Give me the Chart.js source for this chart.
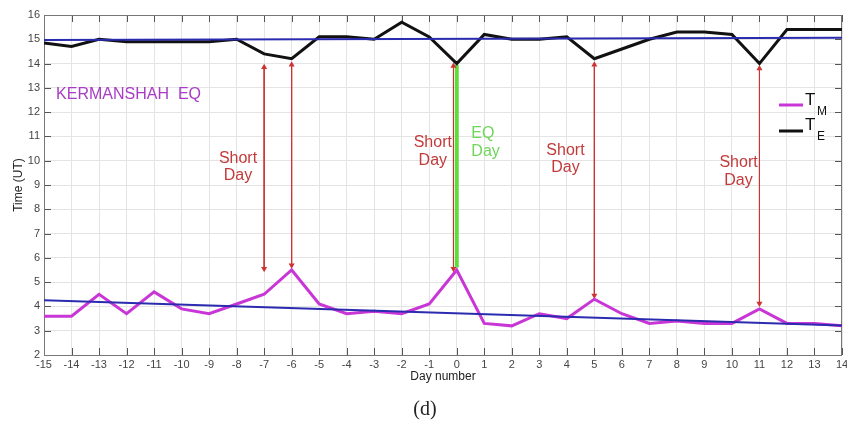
<!DOCTYPE html>
<html>
<head>
<meta charset="utf-8">
<script src="https://cdn.jsdelivr.net/npm/chart.js@4"></script>
<style>
  html, body { margin: 0; padding: 0; background: #fff; }
  #wrap { width: 847px; height: 432px; }
</style>
</head>
<body>
<div id="wrap"><canvas id="eqChart" width="847" height="432"></canvas></div>
<script>
// values
const days = [-15,-14,-13,-12,-11,-10,-9,-8,-7,-6,-5,-4,-3,-2,-1,0,1,2,3,4,5,6,7,8,9,10,11,12,13,14];
const timeE = [14.85,14.7,15.0,14.9,14.9,14.9,14.9,15.0,14.4,14.2,15.1,15.1,15.0,15.7,15.1,14.0,15.2,15.0,15.0,15.1,14.2,14.6,15.0,15.3,15.3,15.2,14.0,15.4,15.4,15.4];
const timeM = [3.6,3.6,4.5,3.7,4.6,3.9,3.7,4.1,4.5,5.5,4.1,3.7,3.8,3.7,4.1,5.5,3.3,3.2,3.7,3.5,4.3,3.7,3.3,3.4,3.3,3.3,3.9,3.3,3.3,3.2];
const trendDays = [-15, 14];
const trendE = [14.97, 15.06];
const trendM = [4.25, 3.21];
const arrowDays = [-7, -6, -0.12, 5, 11];
const arrowTop = [13.85, 13.95, 13.9, 13.95, 13.8];
const arrowBottom = [5.55, 5.7, 5.55, 4.45, 4.12];
const eqDay = 0;
const eqRange = [13.95, 5.6];

const RED = "#cc3333";
const MAGENTA = "#c936d6";
const GREEN = "#5fdc3c";
const FONT = "'Liberation Sans', Arial, sans-serif";

const pts = (xs, ys) => xs.map((x, i) => ({ x: x, y: ys[i] }));

const datasets = [];
datasets.push({
  data: [{ x: eqDay, y: eqRange[0] }, { x: eqDay, y: eqRange[1] }],
  borderColor: GREEN, borderWidth: 4, pointRadius: 0, order: 6
});
arrowDays.forEach((d, i) => {
  datasets.push({
    data: [{ x: d, y: arrowTop[i] }, { x: d, y: arrowBottom[i] }],
    borderColor: RED, borderWidth: 1,
    pointStyle: "triangle", pointRadius: 3.5, pointRotation: [0, 180],
    pointBackgroundColor: RED, pointBorderWidth: 0, order: 5
  });
});
datasets.push({ data: pts(days, timeE), borderColor: "#111", borderWidth: 3, pointRadius: 0, order: 3 });
datasets.push({ data: pts(days, timeM), borderColor: MAGENTA, borderWidth: 3, pointRadius: 0, order: 2 });
datasets.push({ data: pts(trendDays, trendE), borderColor: "#2b2bb0", borderWidth: 2, pointRadius: 0, order: 1 });
datasets.push({ data: pts(trendDays, trendM), borderColor: "#2b2bb0", borderWidth: 2, pointRadius: 0, order: 1 });

// inward tick marks + frame, MATLAB style
const frame = {
  id: "frame",
  beforeDatasetsDraw(chart) {
    const { ctx, chartArea: a, scales: { x, y } } = chart;
    ctx.save();
    ctx.strokeStyle = "#555";
    ctx.lineWidth = 1;
    ctx.beginPath();
    for (let v = -15; v <= 14; v++) {
      const px = Math.round(x.getPixelForValue(v)) + 0.5;
      ctx.moveTo(px, a.bottom); ctx.lineTo(px, a.bottom - 7);
      ctx.moveTo(px, a.top); ctx.lineTo(px, a.top + 7);
    }
    for (let v = 2; v <= 16; v++) {
      const py = Math.round(y.getPixelForValue(v)) + 0.5;
      ctx.moveTo(a.left, py); ctx.lineTo(a.left + 7, py);
      ctx.moveTo(a.right, py); ctx.lineTo(a.right - 7, py);
    }
    ctx.stroke();
    ctx.strokeStyle = "#777";
    ctx.strokeRect(a.left + 0.5, a.top + 0.5, a.right - a.left - 1, a.bottom - a.top);
    ctx.restore();
  }
};

const labels = {
  id: "labels",
  afterDraw(chart) {
    const { ctx, chartArea: a, scales: { x, y } } = chart;
    const X = v => x.getPixelForValue(v), Y = v => y.getPixelForValue(v);
    ctx.save();
    ctx.textBaseline = "middle";

    // axis titles
    ctx.fillStyle = "#222";
    ctx.font = "12px " + FONT;
    ctx.textAlign = "center";
    ctx.fillText("Day number", (a.left + a.right) / 2, 377);
    ctx.save();
    ctx.translate(19, 185);
    ctx.rotate(-Math.PI / 2);
    ctx.fillText("Time (UT)", 0, 0);
    ctx.restore();

    ctx.font = "20px 'Liberation Serif', 'Times New Roman', serif";
    ctx.fillText("(d)", 425, 410);

    // annotations
    ctx.font = "16px " + FONT;
    ctx.textAlign = "left";
    ctx.fillStyle = "#a93cc4";
    ctx.fillText("KERMANSHAH  EQ", X(-14.56), Y(12.72));

    ctx.textAlign = "center";
    ctx.fillStyle = "#c23a3a";
    [[-7.95, 10.08, 9.38], [-0.87, 10.74, 10.0], [3.95, 10.41, 9.71], [10.24, 9.92, 9.18]].forEach(([d, y1, y2]) => {
      ctx.fillText("Short", X(d), Y(y1));
      ctx.fillText("Day", X(d), Y(y2));
    });
    ctx.textAlign = "left";
    ctx.fillStyle = "#6fd65a";
    ctx.fillText("EQ", X(0.53), Y(11.1));
    ctx.fillText("Day", X(0.53), Y(10.37));

    // legend
    ctx.lineWidth = 3;
    ctx.strokeStyle = MAGENTA;
    ctx.beginPath(); ctx.moveTo(779, 105); ctx.lineTo(803, 105); ctx.stroke();
    ctx.strokeStyle = "#111";
    ctx.beginPath(); ctx.moveTo(779, 131); ctx.lineTo(803, 131); ctx.stroke();
    ctx.fillStyle = "#111";
    ctx.textBaseline = "alphabetic";
    ctx.font = "17px " + FONT;
    ctx.fillText("T", 805, 105);
    ctx.fillText("T", 805, 130);
    ctx.font = "12px " + FONT;
    ctx.fillText("M", 817, 115);
    ctx.fillText("E", 817, 140);
    ctx.restore();
  }
};

new Chart(document.getElementById("eqChart").getContext("2d"), {
  type: "line",
  data: { datasets: datasets },
  options: {
    responsive: false,
    animation: false,
    layout: { padding: { top: 15, right: 5, left: 0, bottom: 0 } },
    plugins: { legend: { display: false }, tooltip: { enabled: false } },
    scales: {
      x: {
        type: "linear", min: -15, max: 14,
        afterFit: s => { s.height = 77; s.paddingLeft = 0; s.paddingRight = 0; },
        ticks: { stepSize: 1, padding: 3, color: "#444", font: { family: FONT, size: 11 } },
        grid: { color: "#e4e4e4", drawTicks: false },
        border: { display: false }
      },
      y: {
        min: 2, max: 16,
        afterFit: s => { s.width = 44; s.paddingTop = 0; s.paddingBottom = 0; },
        ticks: { stepSize: 1, padding: 4, color: "#444", font: { family: FONT, size: 11 } },
        grid: { color: "#e4e4e4", drawTicks: false },
        border: { display: false }
      }
    }
  },
  plugins: [frame, labels]
});
</script>
</body>
</html>
